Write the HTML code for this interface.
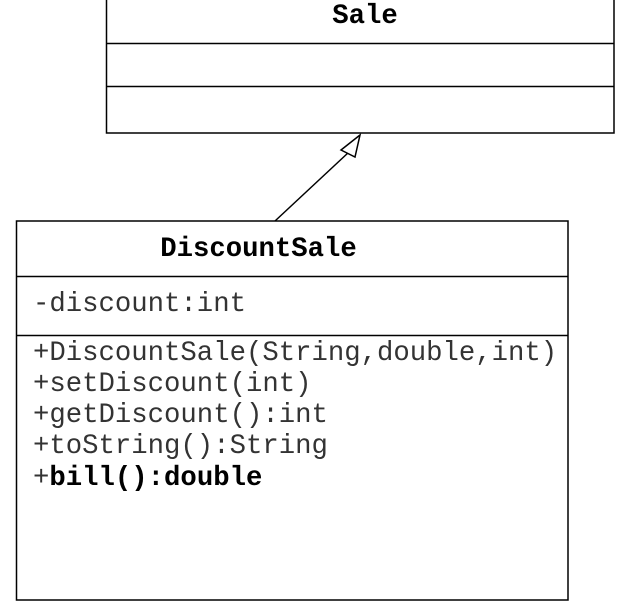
<!DOCTYPE html>
<html><head><style>html,body{margin:0;padding:0;background:#fff;}svg{display:block}</style></head>
<body>
<svg width="618" height="603" xmlns="http://www.w3.org/2000/svg" font-family="'Liberation Mono', monospace" font-size="27.3">
<rect x="106.5" y="-1" width="507.5" height="134" fill="#fff" stroke="#000" stroke-width="1.5"/>
<line x1="106" y1="43.5" x2="614" y2="43.5" stroke="#000" stroke-width="1.5"/>
<line x1="106" y1="86.5" x2="614" y2="86.5" stroke="#000" stroke-width="1.5"/>
<text x="365" y="23" text-anchor="middle" font-weight="bold">Sale</text>
<line x1="275" y1="221" x2="349" y2="152" stroke="#000" stroke-width="1.5"/>
<polygon points="360,135 341,150 355,157" fill="#fff" stroke="#000" stroke-width="1.5"/>
<rect x="16.5" y="221" width="551.5" height="379" fill="#fff" stroke="#000" stroke-width="1.5"/>
<line x1="16" y1="276.5" x2="568" y2="276.5" stroke="#000" stroke-width="1.5"/>
<line x1="16" y1="335.5" x2="568" y2="335.5" stroke="#000" stroke-width="1.5"/>
<text x="258.5" y="256" text-anchor="middle" font-weight="bold">DiscountSale</text>
<g fill="#333">
<text x="33" y="311">-discount:int</text>
<text x="33" y="360">+DiscountSale(String,double,int)</text>
<text x="33" y="391">+setDiscount(int)</text>
<text x="33" y="422">+getDiscount():int</text>
<text x="33" y="453">+toString():String</text>
<text x="33" y="485">+<tspan font-weight="bold" fill="#000">bill():double</tspan></text>
</g>
</svg>
</body></html>
